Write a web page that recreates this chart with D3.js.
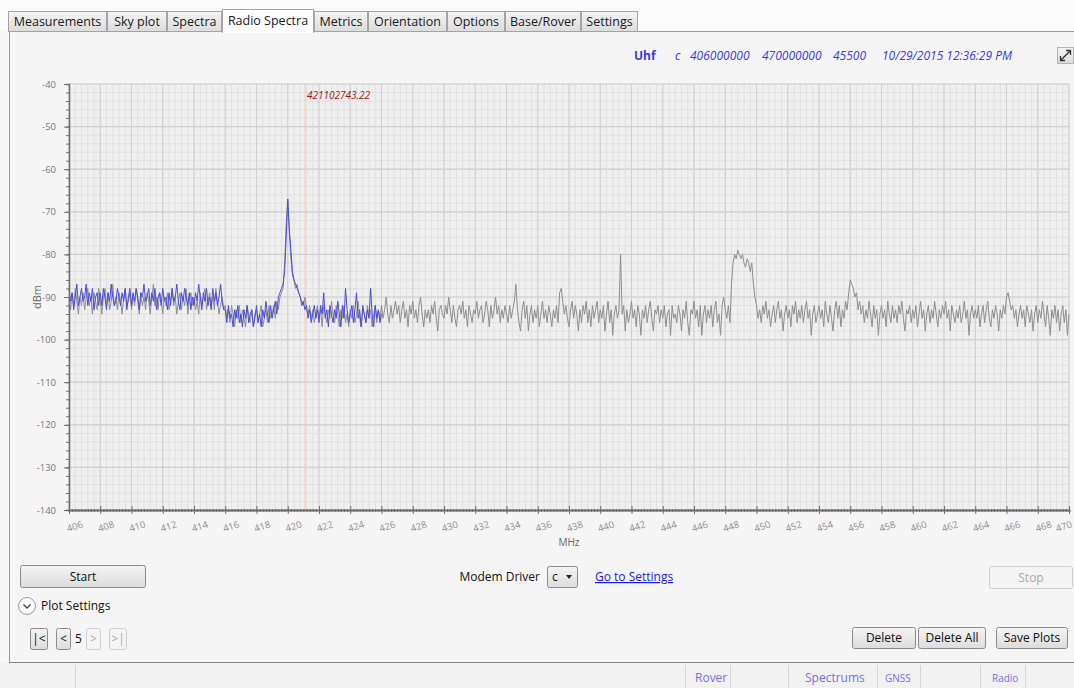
<!DOCTYPE html>
<html>
<head>
<meta charset="utf-8">
<script src="https://cdn.jsdelivr.net/npm/d3@7"></script>
<style>
  html, body { margin: 0; padding: 0; background: #f6f6f6; }
  svg { display: block; font-family: "Open Sans", "Noto Sans", sans-serif; }
</style>
</head>
<body>
<svg id="app" width="1074" height="688"></svg>
<script>
// ---- Sweep settings shown in the header ----
const band = "Uhf";
const driver = "c";
const startHz = 406000000;
const stopHz = 470000000;
const sampleCount = 45500;
const stamp = "10/29/2015 12:36:29 PM";
const markerHz = 421102743.22;

const tabs = ["Measurements", "Sky plot", "Spectra", "Radio Spectra", "Metrics", "Orientation", "Options", "Base/Rover", "Settings"];
const activeTab = "Radio Spectra";

// ---- Trace samples (dBm), one every 0.1 MHz from 406 MHz; one row per MHz ----
const stepMHz = 0.1;

// previous sweep (gray), 406 – 470 MHz
const previousTrace = [
  -90,-93,-89,-92,-88,-91,-94,-90,-92,-89,
  -93,-90,-88,-92,-90,-94,-89,-91,-93,-88,
  -91,-94,-90,-88,-92,-89,-93,-91,-87,-92,
  -90,-93,-89,-91,-94,-90,-88,-92,-91,-89,
  -93,-90,-92,-88,-91,-94,-89,-92,-90,-93,
  -89,-91,-94,-90,-87,-92,-90,-93,-89,-91,
  -94,-90,-92,-89,-93,-91,-88,-92,-90,-94,
  -91,-89,-93,-90,-92,-88,-94,-91,-89,-92,
  -90,-93,-91,-94,-89,-92,-90,-88,-93,-91,
  -89,-92,-90,-93,-88,-91,-94,-92,-90,-93,
  -92,-95,-93,-96,-92,-94,-97,-93,-95,-92,
  -96,-93,-95,-97,-92,-94,-96,-93,-97,-94,
  -93,-96,-94,-92,-97,-95,-93,-96,-92,-95,
  -94,-92,-95,-91,-93,-90,-89,-88,-82,-73,
  -67,-75,-81,-85,-86,-88,-87,-89,-90,-91,
  -92,-90,-93,-94,-92,-95,-93,-96,-94,-92,
  -95,-93,-97,-92,-94,-96,-93,-95,-91,-94,
  -96,-92,-94,-97,-93,-95,-92,-96,-94,-97,
  -93,-95,-92,-96,-94,-91,-95,-97,-93,-94,
  -96,-92,-95,-93,-97,-94,-92,-96,-93,-95,
  -92,-95,-93,-90,-94,-96,-92,-95,-93,-91,
  -94,-92,-96,-93,-91,-95,-93,-97,-92,-94,
  -91,-95,-93,-96,-92,-90,-94,-97,-93,-95,
  -93,-96,-92,-94,-91,-95,-98,-93,-92,-94,
  -95,-92,-94,-90,-93,-96,-92,-95,-97,-93,
  -92,-94,-91,-95,-93,-97,-92,-94,-96,-93,
  -94,-91,-95,-93,-92,-96,-94,-91,-93,-97,
  -92,-95,-93,-90,-94,-92,-96,-93,-95,-92,
  -94,-96,-92,-95,-93,-91,-87,-93,-96,-98,
  -93,-91,-95,-92,-98,-94,-92,-96,-93,-95,
  -92,-97,-94,-91,-95,-93,-96,-92,-94,-97,
  -93,-95,-92,-96,-89,-88,-91,-94,-92,-95,
  -97,-93,-91,-95,-92,-94,-98,-93,-96,-92,
  -94,-91,-96,-93,-97,-92,-95,-93,-91,-96,
  -93,-95,-92,-98,-94,-91,-96,-93,-99,-94,
  -92,-95,-93,-80,-94,-92,-98,-93,-96,-94,
  -91,-95,-93,-97,-92,-94,-99,-93,-95,-92,
  -96,-93,-91,-95,-98,-93,-94,-92,-96,-93,
  -95,-92,-97,-94,-93,-99,-92,-95,-94,-96,
  -92,-94,-98,-93,-95,-91,-96,-99,-93,-94,
  -91,-95,-93,-97,-92,-99,-94,-92,-96,-93,
  -95,-92,-97,-93,-91,-96,-94,-99,-92,-90,
  -93,-95,-92,-96,-87,-82,-80,-81,-79,-80,
  -81,-80,-82,-83,-81,-82,-84,-82,-87,-90,
  -92,-95,-93,-96,-92,-94,-91,-95,-93,-97,
  -94,-92,-96,-93,-91,-95,-93,-98,-94,-92,
  -95,-93,-97,-92,-94,-91,-96,-93,-95,-92,
  -96,-93,-91,-95,-93,-99,-94,-92,-96,-94,
  -92,-95,-93,-97,-91,-94,-96,-92,-95,-98,
  -93,-91,-95,-92,-97,-93,-95,-91,-93,-89,
  -86,-87,-88,-90,-89,-93,-91,-94,-92,-96,
  -93,-95,-91,-94,-97,-92,-95,-93,-99,-94,
  -92,-95,-93,-97,-91,-94,-96,-92,-95,-93,
  -96,-92,-94,-91,-95,-98,-93,-94,-92,-96,
  -93,-95,-92,-97,-94,-91,-95,-93,-98,-94,
  -92,-96,-93,-95,-91,-94,-97,-93,-95,-92,
  -94,-91,-95,-93,-98,-92,-94,-96,-93,-95,
  -92,-96,-94,-91,-95,-93,-99,-94,-92,-95,
  -93,-95,-92,-97,-94,-92,-96,-93,-91,-95,
  -97,-93,-95,-92,-94,-98,-93,-95,-92,-94,
  -90,-89,-91,-93,-92,-95,-93,-97,-94,-92,
  -95,-93,-97,-92,-94,-96,-93,-98,-94,-92,
  -96,-93,-95,-91,-94,-97,-92,-95,-99,-93,
  -95,-92,-96,-93,-98,-94,-92,-96,-93,-99,
  -94
];

// current sweep (blue), 406 – 426 MHz
const currentTrace = [
  -88,-91,-89,-93,-90,-87,-92,-90,-88,-91,
  -90,-87,-92,-89,-91,-88,-93,-90,-89,-92,
  -89,-92,-88,-90,-93,-89,-91,-87,-90,-92,
  -91,-88,-90,-92,-89,-91,-88,-93,-90,-88,
  -92,-89,-91,-88,-90,-93,-89,-90,-87,-91,
  -90,-88,-92,-89,-91,-88,-93,-90,-89,-92,
  -88,-91,-90,-93,-89,-92,-88,-91,-90,-87,
  -91,-93,-89,-91,-88,-90,-92,-89,-93,-90,
  -92,-89,-91,-87,-90,-93,-89,-91,-88,-92,
  -90,-93,-88,-91,-89,-92,-90,-87,-91,-93,
  -93,-96,-92,-95,-94,-97,-93,-95,-92,-96,
  -94,-97,-93,-95,-92,-96,-94,-93,-97,-95,
  -92,-96,-94,-97,-93,-95,-91,-94,-96,-92,
  -95,-93,-91,-94,-90,-89,-88,-87,-84,-76,
  -67,-74,-79,-84,-86,-87,-88,-89,-90,-92,
  -91,-93,-92,-95,-93,-96,-94,-92,-95,-93,
  -96,-92,-94,-89,-95,-93,-97,-92,-94,-96,
  -93,-95,-91,-94,-97,-92,-95,-88,-93,-96,
  -94,-92,-96,-93,-89,-95,-93,-97,-92,-94,
  -96,-93,-95,-88,-94,-97,-92,-95,-93,-96,
  -94
];

// axis tick values
const freqTicks = d3.range(406, 471, 2);
const levelTicks = d3.range(-140, -39, 10);

const startMHz = startHz / 1e6, stopMHz = stopHz / 1e6;

const svg = d3.select("#app");

// ---------- tab strip ----------
const tabX = [8, 107, 167, 222, 314, 368, 447, 505, 581, 638];
svg.append("rect").attr("x", 0).attr("y", 0).attr("width", 1074).attr("height", 31).attr("fill", "#fbfbfb");
const grad = svg.append("defs").append("linearGradient").attr("id", "btn").attr("x1", 0).attr("x2", 0).attr("y1", 0).attr("y2", 1);
grad.append("stop").attr("offset", "0%").attr("stop-color", "#f4f4f4");
grad.append("stop").attr("offset", "100%").attr("stop-color", "#dcdcdc");

// main panel
svg.append("rect").attr("x", 9.5).attr("y", 31.5).attr("width", 1070).attr("height", 631)
  .attr("fill", "#f5f5f5").attr("stroke", "#9a9a9a");
svg.append("line").attr("x1", 9).attr("x2", 1074).attr("y1", 662.5).attr("y2", 662.5)
  .attr("stroke", "#777").attr("stroke-dasharray", "1,1");

tabs.forEach((t, i) => {
  const on = t === activeTab;
  const g = svg.append("g");
  g.append("rect")
    .attr("x", tabX[i] + 0.5).attr("y", on ? 9.5 : 11.5)
    .attr("width", tabX[i + 1] - tabX[i] - 1).attr("height", on ? 23 : 20)
    .attr("fill", on ? "#fdfdfd" : "url(#btn)").attr("stroke", "#a3a3a3");
  g.append("text").attr("x", (tabX[i] + tabX[i + 1]) / 2).attr("y", on ? 25 : 26)
    .attr("text-anchor", "middle").attr("font-size", 12.5).attr("fill", "#1a1a1a").text(t);
});
// open the border under the selected tab
const ai = tabs.indexOf(activeTab);
svg.append("rect").attr("x", tabX[ai] + 1).attr("y", 30).attr("width", tabX[ai + 1] - tabX[ai] - 2).attr("height", 3).attr("fill", "#fdfdfd");

// ---------- header line ----------
const hdr = svg.append("g").attr("fill", "#3b3be0").attr("font-size", 12);
hdr.append("text").attr("x", 634).attr("y", 60).attr("font-weight", "bold").text(band);
hdr.append("text").attr("x", 675).attr("y", 60).attr("font-style", "italic").text(driver);
hdr.append("text").attr("x", 690).attr("y", 60).attr("font-style", "italic").text(String(startHz));
hdr.append("text").attr("x", 762).attr("y", 60).attr("font-style", "italic").text(String(stopHz));
hdr.append("text").attr("x", 833).attr("y", 60).attr("font-style", "italic").text(String(sampleCount));
hdr.append("text").attr("x", 1012).attr("y", 60).attr("text-anchor", "end").attr("font-style", "italic").text(stamp);

// expand icon
const ic = svg.append("g").attr("transform", "translate(1057,47)");
ic.append("rect").attr("x", 0.5).attr("y", 0.5).attr("width", 16).attr("height", 16).attr("fill", "url(#btn)").attr("stroke", "#b5b5b5");
ic.append("line").attr("x1", 4).attr("y1", 13).attr("x2", 13).attr("y2", 4).attr("stroke", "#333").attr("stroke-width", 1.5);
ic.append("path").attr("d", "M9,3.5 L13.5,3.5 L13.5,8 M3.5,9 L3.5,13.5 L8,13.5").attr("fill", "none").attr("stroke", "#333").attr("stroke-width", 1.3);

// ---------- plot ----------
const x = d3.scaleLinear().domain([startMHz, stopMHz]).range([69, 1069]);
const y = d3.scaleLinear().domain([-140, -40]).range([510, 84]);

svg.append("rect").attr("x", x(startMHz)).attr("y", y(-40)).attr("width", x(stopMHz) - x(startMHz)).attr("height", y(-140) - y(-40))
  .attr("fill", "#efefef");

const grid = svg.append("g");
// minor grid
grid.selectAll("line.vmin").data(d3.range(0, 161).map(i => startMHz + i * 0.4)).join("line")
  .attr("x1", d => x(d)).attr("x2", d => x(d)).attr("y1", y(-40)).attr("y2", y(-140))
  .attr("stroke", "#e0e0e0").attr("stroke-width", 1);
grid.selectAll("line.hmin").data(d3.range(-140, -39, 2)).join("line")
  .attr("x1", x(startMHz)).attr("x2", x(stopMHz)).attr("y1", d => y(d)).attr("y2", d => y(d))
  .attr("stroke", "#e0e0e0").attr("stroke-width", 1);
// major grid
grid.selectAll("line.vmaj").data(freqTicks).join("line")
  .attr("x1", d => x(d)).attr("x2", d => x(d)).attr("y1", y(-40)).attr("y2", y(-140))
  .attr("stroke", "#cfcfcf").attr("stroke-width", 1);
grid.selectAll("line.hmaj").data(levelTicks).join("line")
  .attr("x1", x(startMHz)).attr("x2", x(stopMHz)).attr("y1", d => y(d)).attr("y2", d => y(d))
  .attr("stroke", "#cfcfcf").attr("stroke-width", 1.2);

// marker
const mMHz = markerHz / 1e6;
svg.append("line").attr("x1", x(mMHz)).attr("x2", x(mMHz)).attr("y1", y(-40)).attr("y2", y(-140))
  .attr("stroke", "#f1cdb5").attr("stroke-width", 1);
svg.append("text").attr("x", x(mMHz) + 2).attr("y", 99).attr("font-size", 10).attr("font-style", "italic")
  .attr("fill", "#a01515").text(markerHz.toFixed(2));

// traces
const line = d3.line().x((d, i) => x(startMHz + i * stepMHz)).y(d => y(d));
svg.append("path").datum(previousTrace).attr("d", line).attr("fill", "none")
  .attr("stroke", "#8e8e8e").attr("stroke-width", 1).attr("stroke-linejoin", "round");
svg.append("path").datum(currentTrace).attr("d", line).attr("fill", "none")
  .attr("stroke", "#4a4ae0").attr("stroke-width", 1).attr("stroke-linejoin", "round");

// axes
const axisColor = "#6d6d6d";
const xMinor = svg.append("g").attr("transform", `translate(0,${y(-140)})`)
  .call(d3.axisBottom(x).tickValues(d3.range(0, 321).map(i => startMHz + i * 0.2)).tickSize(2).tickFormat(""));
xMinor.select(".domain").attr("stroke", axisColor).attr("stroke-width", 2);
xMinor.selectAll(".tick line").attr("stroke", axisColor).attr("transform", "translate(0,-1)").attr("y2", 3);

const xAxis = svg.append("g").attr("transform", `translate(0,${y(-140)})`)
  .call(d3.axisBottom(x).tickValues(freqTicks).tickSize(5).tickPadding(7));
xAxis.select(".domain").remove();
xAxis.selectAll(".tick line").attr("stroke", axisColor).attr("y1", -4).attr("y2", 4);
xAxis.selectAll(".tick text").attr("fill", "#8f8f8f").attr("font-size", 9.5)
  .attr("font-family", "'Open Sans', sans-serif")
  .attr("transform", d => d === stopMHz ? "translate(-11,0) rotate(-18)" : "rotate(-18)").attr("dy", "0.9em");

const yMinor = svg.append("g").attr("transform", `translate(${x(startMHz)},0)`)
  .call(d3.axisLeft(y).tickValues(d3.range(-140, -39, 2)).tickSize(3).tickFormat(""));
yMinor.select(".domain").attr("stroke", axisColor).attr("stroke-width", 1.5);
yMinor.selectAll(".tick line").attr("stroke", axisColor);

const yAxis = svg.append("g").attr("transform", `translate(${x(startMHz)},0)`)
  .call(d3.axisLeft(y).tickValues(levelTicks).tickSize(5).tickPadding(8).tickFormat(d => String(d)));
yAxis.select(".domain").remove();
yAxis.selectAll(".tick line").attr("stroke", axisColor);
yAxis.selectAll(".tick text").attr("fill", "#777").attr("font-size", 9.5)
  .attr("font-family", "'Open Sans', sans-serif");

svg.append("text").attr("transform", `translate(41,${y(-90)}) rotate(-90)`).attr("text-anchor", "middle")
  .attr("font-size", 11).attr("fill", "#666").text("dBm");
svg.append("text").attr("x", (x(startMHz) + x(stopMHz)) / 2).attr("y", 546).attr("text-anchor", "middle")
  .attr("font-size", 10).attr("fill", "#666").text("MHz");

// ---------- controls ----------
function button(x0, y0, w, h, label, enabled = true, fs = 12) {
  const g = svg.append("g");
  g.append("rect").attr("x", x0 + 0.5).attr("y", y0 + 0.5).attr("width", w).attr("height", h).attr("rx", 2)
    .attr("fill", enabled ? "url(#btn)" : "#f4f4f4").attr("stroke", enabled ? "#8c8c8c" : "#cdcdcd");
  g.append("text").attr("x", x0 + w / 2 + 0.5).attr("y", y0 + h / 2 + 4.5).attr("text-anchor", "middle")
    .attr("font-size", fs).attr("fill", enabled ? "#111" : "#a9a9a9").text(label);
}
button(20, 565, 125, 22, "Start");
button(989, 566, 83, 22, "Stop", false);

svg.append("text").attr("x", 540).attr("y", 581).attr("text-anchor", "end").attr("font-size", 12).attr("fill", "#111").text("Modem Driver");
svg.append("rect").attr("x", 547.5).attr("y", 566.5).attr("width", 30).attr("height", 21).attr("rx", 2)
  .attr("fill", "url(#btn)").attr("stroke", "#8c8c8c");
svg.append("text").attr("x", 552).attr("y", 581).attr("font-size", 12).attr("fill", "#111").text(driver);
svg.append("path").attr("d", "M566,575 L572,575 L569,579 Z").attr("fill", "#222");
svg.append("text").attr("x", 595).attr("y", 581).attr("font-size", 12).attr("fill", "#1a1ae6")
  .attr("text-decoration", "underline").text("Go to Settings");

// plot settings expander
svg.append("circle").attr("cx", 27).attr("cy", 606).attr("r", 8.5).attr("fill", "#fafafa").attr("stroke", "#9a9a9a");
svg.append("path").attr("d", "M23.5,604.5 L27,608 L30.5,604.5").attr("fill", "none").attr("stroke", "#444").attr("stroke-width", 1.4);
svg.append("text").attr("x", 41).attr("y", 610).attr("font-size", 12).attr("fill", "#111").text("Plot Settings");

// pager
button(30, 628, 17, 21, "|<");
button(56, 628, 14, 21, "<");
svg.append("text").attr("x", 75).attr("y", 643).attr("font-size", 12).attr("fill", "#111").text("5");
button(86, 628, 14, 21, ">", false);
button(109, 628, 17, 21, ">|", false);

button(852, 627, 63, 21, "Delete");
button(918, 627, 67, 21, "Delete All");
button(996, 627, 71, 21, "Save Plots");

// ---------- status bar ----------
svg.append("rect").attr("x", 0).attr("y", 663).attr("width", 1074).attr("height", 25).attr("fill", "#f1f1f1");
[75, 685, 730, 788, 877, 920, 980, 1025].forEach(sx => {
  svg.append("line").attr("x1", sx + 0.5).attr("x2", sx + 0.5).attr("y1", 665).attr("y2", 688).attr("stroke", "#d4d4d4");
});
const statusItems = [["Rover", 695, 12], ["Spectrums", 805, 12], ["GNSS", 885, 10], ["Radio", 992, 10]];
statusItems.forEach(([t, sx, fs]) => {
  svg.append("text").attr("x", sx).attr("y", 682).attr("font-size", fs).attr("fill", "#7d70d8").text(t);
});
</script>
</body>
</html>
